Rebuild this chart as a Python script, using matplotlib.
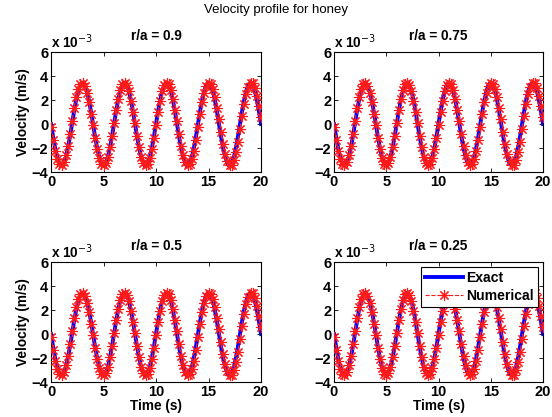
import matplotlib
matplotlib.use("Agg")
import matplotlib.pyplot as plt
import numpy as np

plt.rcParams['font.family'] = ['Liberation Sans', 'DejaVu Sans']

# time axis (s), sampled every 0.2 s
time = np.linspace(0, 20, 101)

# exact solution, units of 1e-3 m/s
exact = [
    0.00, -1.07, -2.03, -2.79, -3.28, -3.45, -3.28, -2.79, -2.03, -1.07,
    0.00, 1.07, 2.03, 2.79, 3.28, 3.45, 3.28, 2.79, 2.03, 1.07,
    0.00, -1.07, -2.03, -2.79, -3.28, -3.45, -3.28, -2.79, -2.03, -1.07,
    0.00, 1.07, 2.03, 2.79, 3.28, 3.45, 3.28, 2.79, 2.03, 1.07,
    0.00, -1.07, -2.03, -2.79, -3.28, -3.45, -3.28, -2.79, -2.03, -1.07,
    0.00, 1.07, 2.03, 2.79, 3.28, 3.45, 3.28, 2.79, 2.03, 1.07,
    0.00, -1.07, -2.03, -2.79, -3.28, -3.45, -3.28, -2.79, -2.03, -1.07,
    0.00, 1.07, 2.03, 2.79, 3.28, 3.45, 3.28, 2.79, 2.03, 1.07,
    0.00, -1.07, -2.03, -2.79, -3.28, -3.45, -3.28, -2.79, -2.03, -1.07,
    0.00, 1.07, 2.03, 2.79, 3.28, 3.45, 3.28, 2.79, 2.03, 1.07,
    0.00,
]

# numerical solution, units of 1e-3 m/s
numerical = [
    -0.27, -1.32, -2.24, -2.94, -3.35, -3.44, -3.19, -2.62, -1.80, -0.80,
    0.27, 1.32, 2.24, 2.94, 3.35, 3.44, 3.19, 2.62, 1.80, 0.80,
    -0.11, -1.17, -2.11, -2.85, -3.31, -3.45, -3.25, -2.73, -1.94, -0.96,
    0.11, 1.17, 2.11, 2.85, 3.31, 3.45, 3.25, 2.73, 1.94, 0.96,
    0.11, -0.96, -1.94, -2.73, -3.25, -3.45, -3.31, -2.85, -2.11, -1.17,
    -0.11, 0.96, 1.94, 2.73, 3.25, 3.45, 3.31, 2.85, 2.11, 1.17,
    0.27, -0.80, -1.80, -2.62, -3.19, -3.44, -3.35, -2.94, -2.24, -1.32,
    -0.27, 0.80, 1.80, 2.62, 3.19, 3.44, 3.35, 2.94, 2.24, 1.32,
    0.43, -0.65, -1.66, -2.51, -3.12, -3.42, -3.39, -3.02, -2.36, -1.47,
    -0.43, 0.65, 1.66, 2.51, 3.12, 3.42, 3.39, 3.02, 2.36, 1.47,
    0.55,
]

radii = ['0.9', '0.75', '0.5', '0.25']
xticks = [0, 5, 10, 15, 20]
yticks = [-4, -2, 0, 2, 4, 6]

W, H = 552, 417
fig = plt.figure(figsize=(W / 100, H / 100), dpi=100)

# axes boxes in pixels: left, top, right, bottom
boxes = [(51, 52, 261, 172), (334, 52, 543, 172),
         (51, 262, 261, 382), (334, 262, 543, 382)]

fs = 9.8
for i, (r, (l, t, rt, b)) in enumerate(zip(radii, boxes)):
    ax = fig.add_axes([l / W, 1 - b / H, (rt - l) / W, (b - t) / H])
    ax.plot(time, exact, color='#0000ff', lw=2.8, label='Exact', zorder=2)
    ax.plot(time, numerical, color='#ff1a1a', ls='--', lw=0.8,
            marker=(8, 2, 0), markersize=8, markeredgewidth=0.8,
            label='Numerical', zorder=3)
    ax.set_xlim(0, 20)
    ax.set_ylim(-4, 6)
    ax.set_xticks(xticks)
    ax.set_yticks(yticks)
    ax.tick_params(direction='in', top=True, right=True, length=3,
                   labelsize=fs + 0.7, pad=2, width=0.6)
    for lbl in ax.get_xticklabels() + ax.get_yticklabels():
        lbl.set_fontweight('bold')
    for sp in ax.spines.values():
        sp.set_linewidth(0.8)
    ax.set_title('r/a = ' + r, fontsize=fs, fontweight='bold', pad=9)
    ax.text(0, 1.01, r'x 10$^{-3}$', transform=ax.transAxes, fontsize=fs,
            fontweight='bold', ha='left', va='bottom')
    if i % 2 == 0:
        ax.set_ylabel('Velocity (m/s)', fontsize=fs, fontweight='bold', labelpad=1)
    if i >= 2:
        ax.set_xlabel('Time (s)', fontsize=fs, fontweight='bold', labelpad=0)
    if i == 3:
        leg = ax.legend(loc='upper right', prop={'weight': 'bold', 'size': fs + 0.3},
                        fancybox=False, edgecolor='black', framealpha=1,
                        handlelength=2.7, borderaxespad=0.35, borderpad=0.3,
                        labelspacing=0.25, handletextpad=0.25)
        leg.get_frame().set_linewidth(0.8)

fig.text(0.5, 1 - 10 / H, 'Velocity profile for honey', ha='center', va='center',
         fontsize=fs - 0.3)

fig.savefig('out.png', dpi=100)
